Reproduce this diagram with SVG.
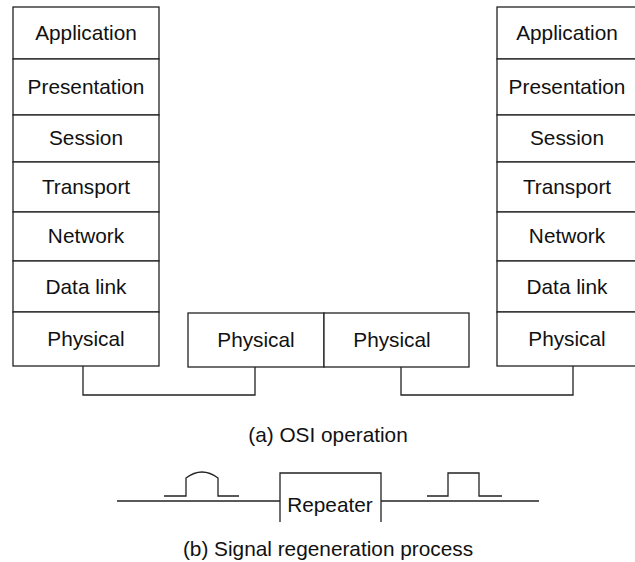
<svg xmlns="http://www.w3.org/2000/svg" width="635" height="562" viewBox="0 0 635 562">
<style>
.box{fill:#fff;stroke:#222;stroke-width:1.3}
.ln{fill:none;stroke:#222;stroke-width:1.3}
text{font-family:"Liberation Sans",Arial,sans-serif;font-size:20.8px;fill:#111;text-anchor:middle}
</style>
<rect width="635" height="562" fill="#fff"/>
<g id="left-stack">
<g id="l-app"><rect class="box" x="13" y="7" width="146" height="52"/><text x="86" y="40">Application</text></g>
<g id="l-pres"><rect class="box" x="13" y="59" width="146" height="56"/><text x="86" y="94">Presentation</text></g>
<g id="l-sess"><rect class="box" x="13" y="115" width="146" height="47"/><text x="86" y="145">Session</text></g>
<g id="l-trans"><rect class="box" x="13" y="162" width="146" height="50"/><text x="86" y="194">Transport</text></g>
<g id="l-net"><rect class="box" x="13" y="212" width="146" height="49"/><text x="86" y="243">Network</text></g>
<g id="l-dl"><rect class="box" x="13" y="261" width="146" height="51"/><text x="86" y="294">Data link</text></g>
<g id="l-phy"><rect class="box" x="13" y="312" width="146" height="54"/><text x="86" y="346">Physical</text></g>
</g>
<g id="right-stack">
<g id="r-app"><rect class="box" x="497" y="7" width="145" height="52"/><text x="567" y="40">Application</text></g>
<g id="r-pres"><rect class="box" x="497" y="59" width="145" height="56"/><text x="567" y="94">Presentation</text></g>
<g id="r-sess"><rect class="box" x="497" y="115" width="145" height="47"/><text x="567" y="145">Session</text></g>
<g id="r-trans"><rect class="box" x="497" y="162" width="145" height="50"/><text x="567" y="194">Transport</text></g>
<g id="r-net"><rect class="box" x="497" y="212" width="145" height="49"/><text x="567" y="243">Network</text></g>
<g id="r-dl"><rect class="box" x="497" y="261" width="145" height="51"/><text x="567" y="294">Data link</text></g>
<g id="r-phy"><rect class="box" x="497" y="312" width="145" height="54"/><text x="567" y="346">Physical</text></g>
</g>
<g id="mid-phy-1"><rect class="box" x="188" y="313" width="136" height="54"/><text x="256" y="347">Physical</text></g>
<g id="mid-phy-2"><rect class="box" x="324" y="313" width="145" height="54"/><text x="392" y="347">Physical</text></g>
<g id="connectors">
<polyline class="ln" points="83,366 83,395 255,395 255,367"/>
<polyline class="ln" points="401,367 401,395 573,395 573,366"/>
</g>
<text x="328" y="442">(a) OSI operation</text>
<g id="repeater">
<line class="ln" x1="117" y1="501" x2="280" y2="501"/>
<line class="ln" x1="381" y1="501" x2="539" y2="501"/>
<polyline class="ln" points="280,522 280,473 381,473 381,522"/>
<text x="330" y="512">Repeater</text>
</g>
<g id="pulses">
<path class="ln" d="M164,496 H186 V478 Q202,466 218,478 V496 H239"/>
<polyline class="ln" points="427,496 448,496 448,473 479,473 479,496 502,496"/>
</g>
<text x="328" y="556">(b) Signal regeneration process</text>
</svg>
